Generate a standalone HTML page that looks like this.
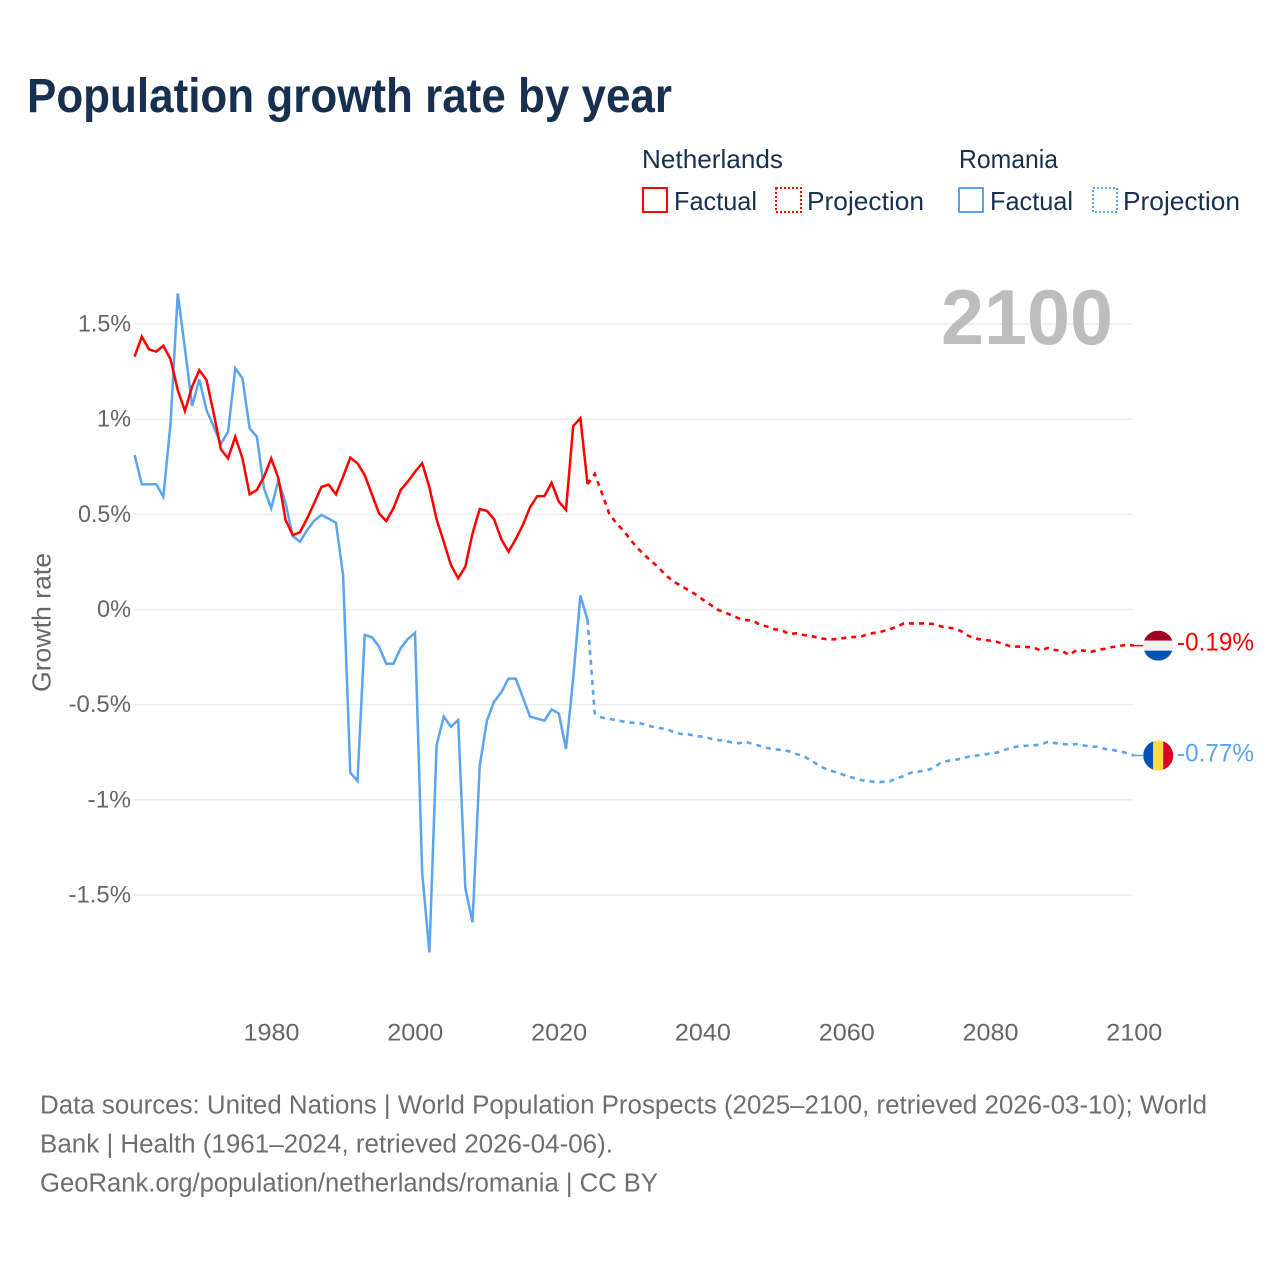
<!DOCTYPE html>
<html lang="en">
<head>
<meta charset="utf-8">
<title>Population growth rate by year</title>
<style>
html,body{margin:0;padding:0;background:#fff;}
#chart{display:block;width:1280px;height:1280px;font-family:"Liberation Sans",sans-serif;}
text{font-family:"Liberation Sans",sans-serif;}
</style>
</head>
<body>
<svg id="chart" xmlns="http://www.w3.org/2000/svg" width="1280" height="1280" viewBox="0 0 1280 1280">
  <rect x="0" y="0" width="1280" height="1280" fill="#ffffff"/>
  <text x="27" y="112" font-size="48" font-weight="700" fill="#18304f" textLength="645" lengthAdjust="spacingAndGlyphs">Population growth rate by year</text>

  <g fill="#18304f" font-size="26">
    <text x="642" y="168" textLength="141" lengthAdjust="spacingAndGlyphs">Netherlands</text>
    <text x="959" y="168" textLength="99" lengthAdjust="spacingAndGlyphs">Romania</text>
    <g>
      <rect x="643" y="188" width="24" height="24" fill="none" stroke="#ff0000" stroke-width="2"/>
      <text x="674" y="210" textLength="83" lengthAdjust="spacingAndGlyphs">Factual</text>
    </g>
    <g>
      <rect x="776" y="188" width="25" height="24" fill="none" stroke="#ff0000" stroke-width="2" stroke-dasharray="2 2"/>
      <text x="807" y="210" textLength="117" lengthAdjust="spacingAndGlyphs">Projection</text>
    </g>
    <g>
      <rect x="959" y="188" width="24" height="24" fill="none" stroke="#5aa5ee" stroke-width="2"/>
      <text x="990" y="210" textLength="83" lengthAdjust="spacingAndGlyphs">Factual</text>
    </g>
    <g>
      <rect x="1093" y="188" width="24" height="24" fill="none" stroke="#5aa5ee" stroke-width="2" stroke-dasharray="2 2"/>
      <text x="1123" y="210" textLength="117" lengthAdjust="spacingAndGlyphs">Projection</text>
    </g>
  </g>

  <g id="grid"></g>
  <g id="yticks"></g>
  <g id="xticks"></g>
  <text transform="translate(50.5,692) rotate(-90)" font-size="26" fill="#666666" textLength="139" lengthAdjust="spacingAndGlyphs">Growth rate</text>
  <text x="941" y="344" font-size="78" font-weight="700" fill="#bdbdbd" textLength="172" lengthAdjust="spacingAndGlyphs">2100</text>
  <g id="series"></g>
  <g id="markers"></g>

  <g font-size="25.5" fill="#6e6e6e">
    <text x="40" y="1113.5" textLength="1167" lengthAdjust="spacingAndGlyphs">Data sources: United Nations | World Population Prospects (2025–2100, retrieved 2026-03-10); World</text>
    <text x="40" y="1152.5" textLength="573" lengthAdjust="spacingAndGlyphs">Bank | Health (1961–2024, retrieved 2026-04-06).</text>
    <text x="40" y="1191.5" textLength="618" lengthAdjust="spacingAndGlyphs">GeoRank.org/population/netherlands/romania | CC BY</text>
  </g>
</svg>

<script>
const factualStartYear = 1961;
const projectionStartYear = 2024;

const netherlandsFactual = [
  1.329,1.434,1.367,1.355,1.386,1.315,1.153,1.043,1.171,1.258,
  1.206,1.031,0.842,0.794,0.908,0.794,0.605,0.628,0.698,0.794,
  0.689,0.470,0.391,0.406,0.479,0.561,0.645,0.656,0.605,0.698,
  0.798,0.768,0.707,0.605,0.505,0.465,0.532,0.628,0.672,0.724,
  0.768,0.642,0.474,0.356,0.234,0.164,0.225,0.400,0.528,0.518,
  0.474,0.369,0.304,0.369,0.444,0.537,0.596,0.596,0.666,0.567,
  0.523,0.964,1.005,0.659
];
const netherlandsProjection = [
  0.659,0.712,0.611,0.505,0.453,0.414,0.365,0.321,0.283,0.251,0.215,
  0.176,0.146,0.125,0.102,0.080,0.053,0.027,0.001,-0.015,-0.029,
  -0.046,-0.055,-0.059,-0.081,-0.090,-0.104,-0.108,-0.129,-0.125,-0.134,
  -0.138,-0.148,-0.155,-0.157,-0.155,-0.147,-0.145,-0.143,-0.129,-0.122,
  -0.115,-0.104,-0.090,-0.073,-0.073,-0.073,-0.073,-0.076,-0.087,-0.095,
  -0.099,-0.115,-0.139,-0.153,-0.159,-0.164,-0.171,-0.183,-0.195,-0.195,
  -0.197,-0.199,-0.216,-0.202,-0.213,-0.218,-0.239,-0.213,-0.216,-0.223,
  -0.213,-0.206,-0.197,-0.192,-0.185,-0.19
];
const romaniaFactual = [
  0.812,0.658,0.658,0.658,0.593,0.978,1.661,1.372,1.069,1.209,
  1.048,0.961,0.870,0.934,1.267,1.215,0.952,0.908,0.637,0.532,
  0.680,0.558,0.386,0.356,0.418,0.467,0.497,0.477,0.456,0.181,
  -0.857,-0.901,-0.134,-0.145,-0.195,-0.285,-0.285,-0.204,-0.155,-0.122,
  -1.386,-1.802,-0.712,-0.563,-0.616,-0.581,-1.465,-1.644,-0.821,-0.584,
  -0.484,-0.435,-0.363,-0.363,-0.462,-0.563,-0.574,-0.584,-0.525,-0.546,
  -0.733,-0.362,0.073,-0.055
];
const romaniaProjection = [
  -0.055,-0.546,-0.568,-0.575,-0.581,-0.589,-0.595,-0.595,-0.605,-0.616,-0.623,
  -0.628,-0.645,-0.654,-0.656,-0.665,-0.668,-0.677,-0.686,-0.689,-0.698,
  -0.703,-0.695,-0.707,-0.717,-0.728,-0.735,-0.738,-0.745,-0.759,-0.770,
  -0.791,-0.815,-0.836,-0.849,-0.861,-0.875,-0.885,-0.896,-0.903,-0.906,
  -0.906,-0.903,-0.887,-0.875,-0.857,-0.852,-0.847,-0.835,-0.808,-0.796,
  -0.791,-0.784,-0.773,-0.768,-0.763,-0.756,-0.751,-0.738,-0.726,-0.719,
  -0.716,-0.714,-0.710,-0.696,-0.702,-0.707,-0.710,-0.707,-0.714,-0.721,
  -0.721,-0.733,-0.738,-0.745,-0.754,-0.767
];
const yTickValues = [1.5,1,0.5,0,-0.5,-1,-1.5];
const yTickLabels = ["1.5%","1%","0.5%","0%","-0.5%","-1%","-1.5%"];
const xTickValues = [1980,2000,2020,2040,2060,2080,2100];
const xTickLabels = ["1980","2000","2020","2040","2060","2080","2100"];
const endLabelTexts = ["-0.19%","-0.77%"];

const NS = "http://www.w3.org/2000/svg";
const RED = "#ff0000";
const BLUE = "#5aa5ee";
function xScale(year){ return 134.6 + (year - 1961) * 7.19; }
function yScale(v){ return 609.5 - v * 190.3; }
function make(tag, parent, attrs, txt){
  const n = document.createElementNS(NS, tag);
  for (const k in attrs) n.setAttribute(k, attrs[k]);
  if (txt !== undefined) n.textContent = txt;
  parent.appendChild(n);
  return n;
}
function pointsFor(values, start){
  return values.map(function(v, i){ return xScale(start + i).toFixed(2) + "," + yScale(v).toFixed(2); }).join(" ");
}
function labelWidth(s){
  let w = 0;
  for (const c of s) w += c === "." ? 5 : c === "%" ? 20 : c === "-" ? 9.5 : 14;
  return w;
}

const gridG = document.getElementById("grid");
const yG = document.getElementById("yticks");
const xG = document.getElementById("xticks");
const seriesG = document.getElementById("series");
const markersG = document.getElementById("markers");

yTickValues.forEach(function(v, i){
  const gl = make("line", gridG, {x1:134, x2:1133, y1:yScale(v), y2:yScale(v), stroke:"#ececec", "stroke-width":1.5});
  
  
  const w = labelWidth(yTickLabels[i]);
  const t = make("text", yG, {x:131 - w, y:yScale(v)+7.5, "font-size":24.5, fill:"#666666", textLength:w, lengthAdjust:"spacingAndGlyphs"}, yTickLabels[i]);
  
  
});
xTickValues.forEach(function(v, i){
  const w = labelWidth(xTickLabels[i]);
  const t = make("text", xG, {x:xScale(v)+0.3 - w/2, y:1040.5, "font-size":24.5, fill:"#666666", textLength:w, lengthAdjust:"spacingAndGlyphs"}, xTickLabels[i]);
  
  
});

const nlP = make("polyline", seriesG, {points:pointsFor(netherlandsProjection, projectionStartYear), fill:"none", stroke:RED, "stroke-width":2.6, "stroke-dasharray":"5 5"});


const roP = make("polyline", seriesG, {points:pointsFor(romaniaProjection, projectionStartYear), fill:"none", stroke:BLUE, "stroke-width":2.6, "stroke-dasharray":"5 5"});


const roF = make("polyline", seriesG, {points:pointsFor(romaniaFactual, factualStartYear), fill:"none", stroke:BLUE, "stroke-width":2.5, "stroke-linejoin":"miter"});


const nlF = make("polyline", seriesG, {points:pointsFor(netherlandsFactual, factualStartYear), fill:"none", stroke:RED, "stroke-width":2.5, "stroke-linejoin":"miter"});



const defs = make("defs", markersG, {});
const cpA = make("clipPath", defs, {id:"nl-clip"});
const nlY = yScale(netherlandsProjection[netherlandsProjection.length - 1]);
const roY = yScale(romaniaProjection[romaniaProjection.length - 1]);
const markerX = xScale(2100) + 24.2;
make("circle", cpA, {cx:markerX, cy:nlY, r:15});
const cpB = make("clipPath", defs, {id:"ro-clip"});
make("circle", cpB, {cx:markerX, cy:roY, r:15});

const nlLeader = make("line", markersG, {x1:xScale(2100), x2:markerX-15, y1:nlY, y2:nlY, stroke:RED, "stroke-width":1.5});


const roLeader = make("line", markersG, {x1:xScale(2100), x2:markerX-15, y1:roY, y2:roY, stroke:BLUE, "stroke-width":1.5});



const nlFlag = make("g", markersG, {"clip-path":"url(#nl-clip)"});


make("rect", nlFlag, {x:markerX-15, y:nlY-15, width:30, height:10, fill:"#a2001d"});
make("rect", nlFlag, {x:markerX-15, y:nlY-5, width:30, height:10, fill:"#f0f0f0"});
make("rect", nlFlag, {x:markerX-15, y:nlY+5, width:30, height:10, fill:"#0052b4"});

const roFlag = make("g", markersG, {"clip-path":"url(#ro-clip)"});


make("rect", roFlag, {x:markerX-15, y:roY-15, width:10, height:30, fill:"#0052b4"});
make("rect", roFlag, {x:markerX-5, y:roY-15, width:10, height:30, fill:"#ffda44"});
make("rect", roFlag, {x:markerX+5, y:roY-15, width:10, height:30, fill:"#d80027"});

const nlLabel = make("text", markersG, {x:1177, y:nlY+5, "font-size":25, fill:RED, textLength:77, lengthAdjust:"spacingAndGlyphs"}, endLabelTexts[0]);


const roLabel = make("text", markersG, {x:1177, y:roY+6, "font-size":25, fill:BLUE, textLength:77, lengthAdjust:"spacingAndGlyphs"}, endLabelTexts[1]);


</script>
</body>
</html>
